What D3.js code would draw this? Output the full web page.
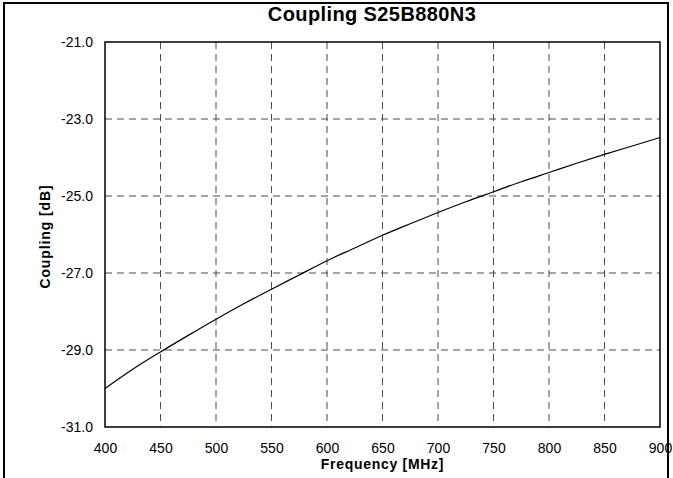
<!DOCTYPE html>
<html>
<head>
<meta charset="utf-8">
<script src="https://cdn.jsdelivr.net/npm/d3@7"></script>
<style>
  body { margin: 0; background: #fff; }
  text { font-family: Arial, "Liberation Sans", sans-serif; fill: #000; }
</style>
</head>
<body>
<div id="chart"></div>
<script>
var svgWidth = 673;
var svgHeight = 478;

var margin = { top: 42, right: 13, bottom: 51, left: 105 };
var width = svgWidth - margin.left - margin.right;
var height = svgHeight - margin.top - margin.bottom;

// data
var freq = [400, 425, 450, 475, 500, 525, 550, 575, 600, 625, 650,
  675, 700, 725, 750, 775, 800, 825, 850, 875, 900];
var coupling = [-30.00, -29.50, -29.05, -28.62, -28.20, -27.80, -27.42, -27.05,
  -26.68, -26.35, -26.02, -25.72, -25.43, -25.15, -24.89, -24.63, -24.39,
  -24.15, -23.92, -23.70, -23.48];
var xTicks = [400, 450, 500, 550, 600, 650, 700, 750, 800, 850, 900];
var yTicks = [-21, -23, -25, -27, -29, -31];

var svg = d3.select('#chart')
  .append('svg')
  .attr('width', svgWidth)
  .attr('height', svgHeight);

// outer frame
svg.append('rect')
  .attr('x', 4)
  .attr('y', 3)
  .attr('width', 664)
  .attr('height', 500)
  .attr('fill', 'none')
  .attr('stroke', '#000')
  .attr('stroke-width', 2);

var chartGroup = svg.append('g')
  .attr('transform', `translate(${margin.left}, ${margin.top})`);

var xScale = d3.scaleLinear().domain([400, 900]).range([0, width]);
var yScale = d3.scaleLinear().domain([-31, -21]).range([height, 0]);

// grid lines
chartGroup.append('g')
  .selectAll('line')
  .data(xTicks.slice(1, -1))
  .enter()
  .append('line')
  .attr('x1', d => xScale(d))
  .attr('x2', d => xScale(d))
  .attr('y1', 0)
  .attr('y2', height)
  .attr('stroke', '#4a4a4a')
  .attr('stroke-dasharray', '7,5');

chartGroup.append('g')
  .selectAll('line')
  .data(yTicks.slice(1, -1))
  .enter()
  .append('line')
  .attr('x1', 0)
  .attr('x2', width)
  .attr('y1', d => yScale(d))
  .attr('y2', d => yScale(d))
  .attr('stroke', '#4a4a4a')
  .attr('stroke-dasharray', '7,5');

// axes (labels only, border drawn separately)
var bottomAxis = d3.axisBottom(xScale).tickValues(xTicks).tickSize(0).tickPadding(16);
var leftAxis = d3.axisLeft(yScale).tickValues(yTicks).tickSize(0).tickPadding(12);

var xAxis = chartGroup.append('g')
  .attr('transform', `translate(0, ${height})`)
  .call(bottomAxis);
var yAxis = chartGroup.append('g').call(leftAxis);

[xAxis, yAxis].forEach(function(a) {
  a.select('.domain').remove();
  a.selectAll('text')
    .attr('font-size', '14px')
    .attr('font-family', 'Arial, "Liberation Sans", sans-serif')
    .attr('fill', '#000');
});
yAxis.selectAll('text').text(d => d.toFixed(1));

// curve
var line = d3.line()
  .x((d, i) => xScale(freq[i]))
  .y(d => yScale(d))
  .curve(d3.curveMonotoneX);

chartGroup.append('path')
  .datum(coupling)
  .attr('d', line)
  .attr('fill', 'none')
  .attr('stroke', '#000')
  .attr('stroke-width', 1.2);

// plot border
chartGroup.append('rect')
  .attr('width', width)
  .attr('height', height)
  .attr('fill', 'none')
  .attr('stroke', '#000')
  .attr('stroke-width', 1.5);

// titles
svg.append('text')
  .attr('x', 372)
  .attr('y', 21)
  .attr('text-anchor', 'middle')
  .attr('font-size', '20px')
  .attr('font-weight', 'bold')
  .attr('letter-spacing', '0.4px')
  .text('Coupling S25B880N3');

svg.append('text')
  .attr('x', margin.left + width / 2)
  .attr('y', 469)
  .attr('text-anchor', 'middle')
  .attr('font-size', '14px')
  .attr('font-weight', 'bold')
  .attr('letter-spacing', '0.7px')
  .text('Frequency [MHz]');

svg.append('text')
  .attr('transform', `translate(50, ${margin.top + height / 2 + 2}) rotate(-90)`)
  .attr('text-anchor', 'middle')
  .attr('font-size', '14px')
  .attr('font-weight', 'bold')
  .attr('letter-spacing', '0.9px')
  .text('Coupling [dB]');
</script>
</body>
</html>
